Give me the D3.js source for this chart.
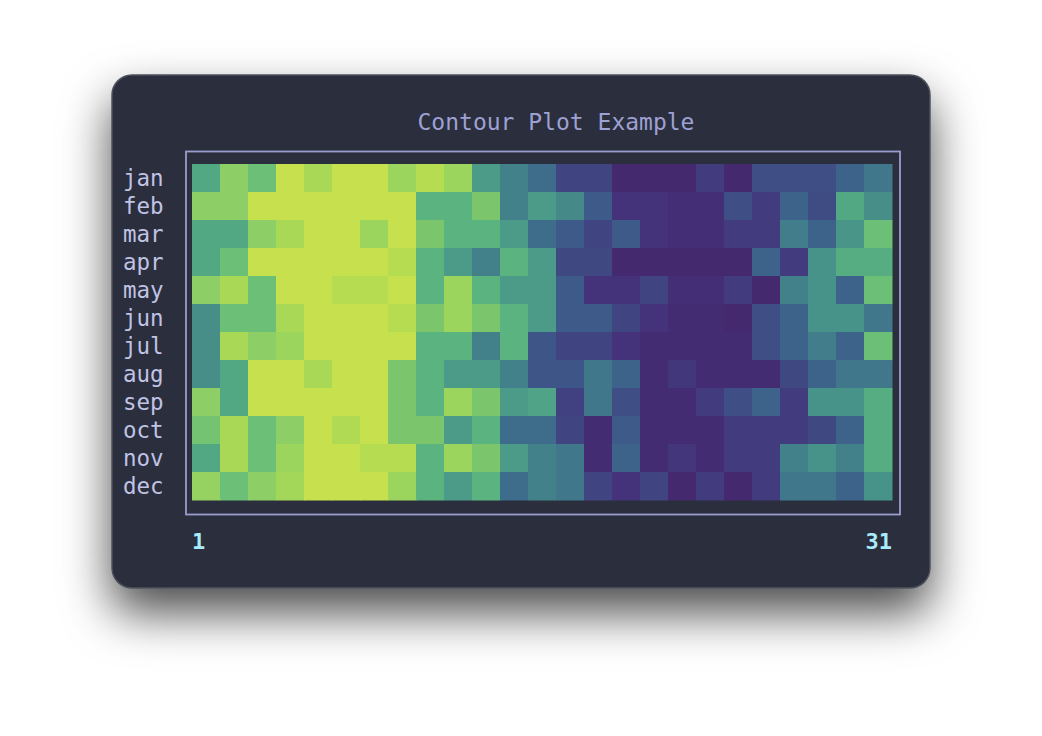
<!DOCTYPE html>
<html>
<head>
<meta charset="utf-8">
<title>Contour Plot Example</title>
<script src="https://cdn.jsdelivr.net/npm/d3@7"></script>
<style>
  body { margin: 0; background: #ffffff; }
  svg { display: block; }
  .mono { font-family: "DejaVu Sans Mono", monospace; }
</style>
</head>
<body>
<script>
// data (level 0 = darkest, 14 = brightest)
var months = ["jan","feb","mar","apr","may","jun","jul","aug","sep","oct","nov","dec"];
var dayTicks = [1, 31];
var nCols = 25;
var values = [
  [6.5,10,8,14,12,14,14,11,13,11,6,5,4,2,2,0,0,0,1.5,0,2.5,2.5,2.5,3.5,4.5],
  [10,10,14,14,14,14,14,14,7,7,9,5,6,5.3,3,1,1,0.5,0.5,2.5,1.5,3.5,2.3,6.5,5.5],
  [6.5,6.5,10,12,14,14,11,14,9,7,7,6,4,3,2,3,1,0.5,0.5,1.5,1.5,4.8,3.5,5.8,8],
  [6.5,8,14,14,14,14,14,13,7,6,5,7,6,2.2,2.2,0,0,0,0,0,3.5,1.5,5.7,6.7,6.7],
  [10,12,8,14,14,13,13,14,7,11,7,6,6,3,1,1,2,0.5,0.5,1.5,0,5,5.7,3.5,8],
  [5.5,8,8,12,14,14,14,13,9,11,9,7,6,3,3,2,1,0.3,0.3,0,2.5,3.5,5.7,5.7,4.5],
  [5.5,12,10,11,14,14,14,14,7,7,5,7,2.8,2,2,1,0.3,0.3,0.3,0.3,2.5,3.5,4.8,3.5,8],
  [5.5,6.5,14,14,12,14,14,9,7,6,6,5,2.8,2.8,4.5,3.5,0.3,1.3,0.3,0.3,0.3,2.2,3.5,4.5,4.5],
  [10,6.5,14,14,14,14,14,9,7,11,9,6,6.3,1.8,4.5,2.5,0.3,0.3,1.5,2.5,3.5,1.5,5.7,5.7,6.7],
  [8.5,12,8,10,14,12.5,14,9,9,6,7,4,4,2,0.3,3,0.3,0.3,0.3,1.5,1.5,1.5,2.2,3.5,6.7],
  [6.5,12,8,11,14,14,13,13,7,11,9,6,5,4.5,0.3,3.5,0.3,1.2,0.3,1.5,1.5,5,5.7,5,6.7],
  [10.5,8,10,11.5,14,14,14,11,7,6,7,4,5,4.5,2,1,2,0,1.5,0,1.5,4.5,4.5,3.5,5.7]
];

var width = 1042, height = 736;
var card = {x: 112, y: 75, w: 818, h: 513};
var plot = {left: 192, right: 892, top: 164, bottom: 500};

// muted viridis-like palette, one stop per level
var palette = ["#44296f","#44327a","#404481","#3e5a88","#3e6c8b","#42818a","#4b9b88",
               "#5bb480","#6cbf77","#7bc66c","#8dcf66","#9cd55e","#a9d856","#b6dc52","#c7e04e"];
var color = d3.scaleLinear().domain(d3.range(palette.length)).range(palette).clamp(true);

var x = d3.scaleBand().domain(d3.range(nCols)).range([plot.left, plot.right]);
var y = d3.scaleBand().domain(months).range([plot.top, plot.bottom]);
var xDay = d3.scaleLinear().domain([dayTicks[0], dayTicks[dayTicks.length - 1]]).range([plot.left, plot.right]);

var svg = d3.select("body").append("svg")
  .attr("width", width)
  .attr("height", height);

var defs = svg.append("defs");
var shadow = defs.append("filter").attr("id", "shadow")
  .attr("x", "-25%").attr("y", "-25%").attr("width", "150%").attr("height", "170%");
shadow.append("feDropShadow")
  .attr("dx", 0).attr("dy", 24).attr("stdDeviation", 24)
  .attr("flood-color", "#000").attr("flood-opacity", 0.7);

// the card
svg.append("rect")
  .attr("x", card.x).attr("y", card.y)
  .attr("width", card.w).attr("height", card.h)
  .attr("rx", 20).attr("ry", 20)
  .attr("fill", "#2a2d3e")
  .attr("stroke", "#4e505c").attr("stroke-width", 1.5)
  .attr("filter", "url(#shadow)");

// title
svg.append("text")
  .attr("class", "mono")
  .attr("x", 556).attr("y", 130)
  .attr("text-anchor", "middle")
  .attr("font-size", 23)
  .attr("fill", "#9ea1d3")
  .text("Contour Plot Example");

// frame round the plot
svg.append("rect")
  .attr("x", 186).attr("y", 151.5)
  .attr("width", 714).attr("height", 363)
  .attr("fill", "none")
  .attr("stroke", "#9a9dd0").attr("stroke-width", 1.8);

// cells
var cells = [];
values.forEach(function (row, j) {
  row.forEach(function (v, i) {
    cells.push({month: months[j], col: i, value: v});
  });
});

svg.append("g").selectAll("rect")
  .data(cells)
  .enter().append("rect")
  .attr("x", function (d) { return x(d.col); })
  .attr("y", function (d) { return y(d.month); })
  .attr("width", x.bandwidth() + 0.5)
  .attr("height", y.bandwidth() + 0.5)
  .attr("fill", function (d) { return color(d.value); });

// month labels
svg.append("g").selectAll("text")
  .data(months)
  .enter().append("text")
  .attr("class", "mono")
  .attr("x", 123)
  .attr("y", function (d) { return y(d) + y.bandwidth() / 2; })
  .attr("dy", "0.36em")
  .attr("font-size", 22.5)
  .attr("fill", "#c0c3e4")
  .text(function (d) { return d; });

// day labels
svg.append("g").selectAll("text")
  .data(dayTicks)
  .enter().append("text")
  .attr("class", "mono")
  .attr("x", function (d) { return xDay(d); })
  .attr("y", 549)
  .attr("text-anchor", function (d, i) { return i === 0 ? "start" : "end"; })
  .attr("font-size", 22)
  .attr("font-weight", "bold")
  .attr("fill", "#a8ecfb")
  .text(function (d) { return d; });
</script>
</body>
</html>
